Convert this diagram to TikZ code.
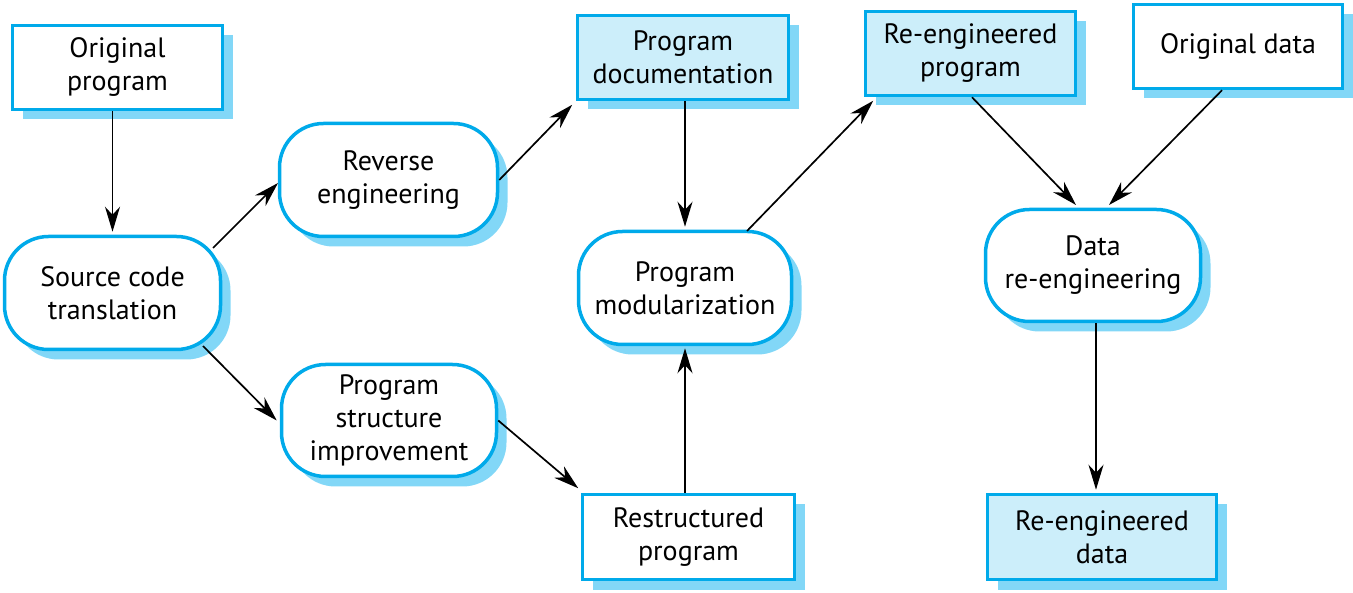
\documentclass[tikz,border=0pt]{standalone}
\usepackage{fontspec}
\setmainfont{PT Sans}
\usetikzlibrary{shadows,arrows.meta}
\definecolor{bord}{HTML}{00AAEA}
\definecolor{shc}{HTML}{82D7F7}
\definecolor{lfill}{HTML}{CCEEFA}
\begin{document}
\begin{tikzpicture}[x=1pt,y=-1pt,
  base/.style={draw=bord,line width=3.5pt,align=center,inner sep=0pt,
    font=\fontsize{28}{33}\selectfont,
    drop shadow={shadow xshift=10pt,shadow yshift=-10pt,fill=shc,opacity=1}},
  docbox/.style={base,fill=white},
  filledbox/.style={base,fill=lfill},
  procbox/.style={base,fill=white,rounded corners=44pt},
  arr/.style={line width=1.7pt,-{Stealth[length=25pt,width=15pt,inset=8pt]}}]
\useasboundingbox (0,0) rectangle (1353,593);
\node[docbox,minimum width=210pt,minimum height=84pt] (orig) at (117.5,67.5) {Original\\program};
\node[filledbox,minimum width=211pt,minimum height=84pt] (doc) at (683,57.5) {Program\\documentation};
\node[filledbox,minimum width=210pt,minimum height=84pt] (reprog) at (970.5,53.5) {Re-engineered\\program};
\node[docbox,minimum width=209pt,minimum height=84pt] (odata) at (1238,46.5) {Original data};
\node[procbox,minimum width=218pt,minimum height=113pt] (rev) at (388.5,180) {Reverse\\engineering};
\node[procbox,minimum width=216pt,minimum height=113pt] (src) at (112.5,293) {Source code\\translation};
\node[procbox,minimum width=213pt,minimum height=113pt] (mod) at (685,288) {Program\\modularization};
\node[procbox,minimum width=215pt,minimum height=112pt] (psi) at (389,420.5) {Program\\structure\\improvement};
\node[docbox,minimum width=212pt,minimum height=85pt] (restr) at (688.5,537) {Restructured\\program};
\node[procbox,minimum width=215pt,minimum height=112pt] (dre) at (1093,265.5) {Data\\re-engineering};
\node[filledbox,minimum width=229pt,minimum height=85pt] (redata) at (1102,537) {Re-engineered\\data};

\draw[arr] (orig.south -| src.north) -- ([shift={(0,-3)}]src.north);
\draw[arr] ([shift={(100.5,-45)}]src.center) -- ([shift={(-110.5,3)}]rev.center);
\draw[arr] ([shift={(90.5,53)}]src.center) -- ([shift={(-3,0)}]psi.west);
\draw[arr] (rev.east) -- ([shift={(-3.5,3.5)}]doc.south west);
\draw[arr] (psi.east) -- ([shift={(-2.5,-4.5)}]restr.north west);
\draw[arr] (doc.south -| mod.north) -- ([shift={(0,-3)}]mod.north);
\draw[arr] (restr.north -| mod.south) -- ([shift={(0,2)}]mod.south);
\draw[arr] ([shift={(62,-57)}]mod.center) -- ([shift={(9.5,3.5)}]reprog.south west);
\draw[arr] ([shift={(1.5,0)}]reprog.south) -- ([shift={(-17,-60.5)}]dre.center);
\draw[arr] ([shift={(-16,0)}]odata.south) -- ([shift={(16,-60.5)}]dre.center);
\draw[arr] ([shift={(3,0)}]dre.south) -- ([shift={(-6,-3)}]redata.north);
\end{tikzpicture}
\end{document}
